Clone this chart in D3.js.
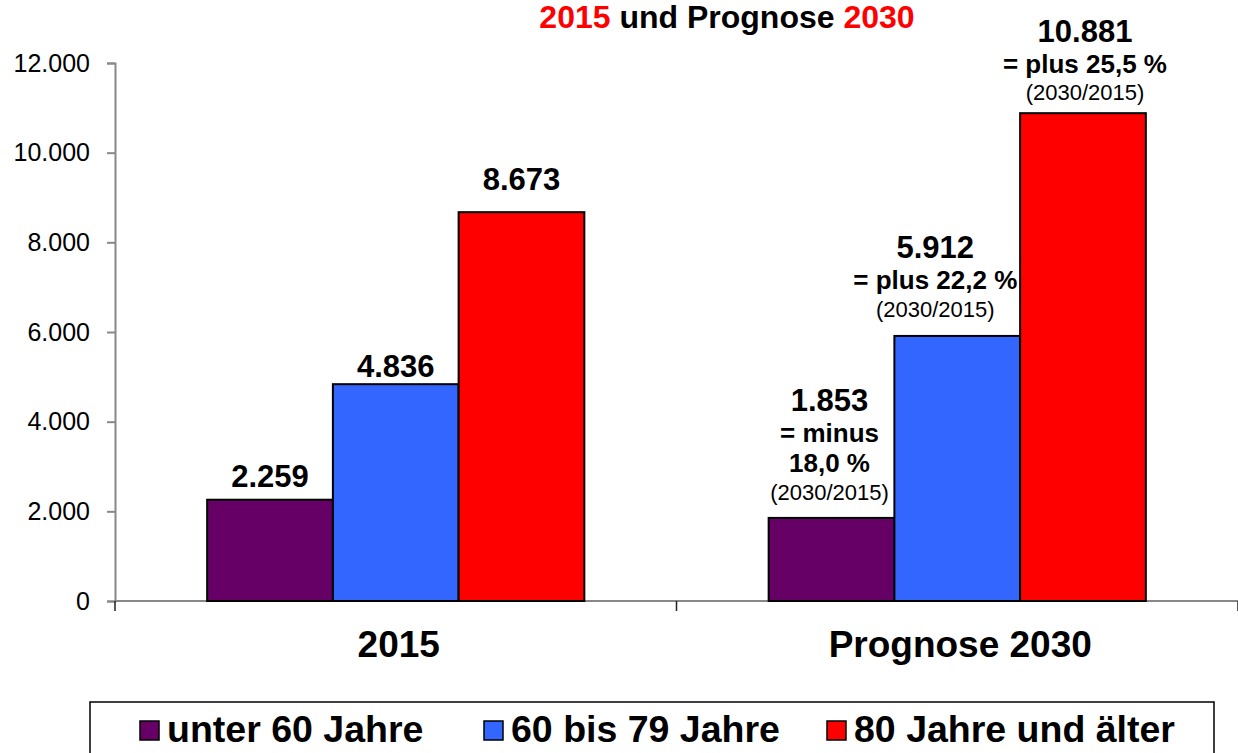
<!DOCTYPE html>
<html>
<head>
<meta charset="utf-8">
<script src="https://cdn.jsdelivr.net/npm/d3@7"></script>
<style>
  html, body { margin: 0; padding: 0; background: #fff; }
  svg { display: block; }
  text { font-family: "Liberation Sans", Arial, sans-serif; }
</style>
</head>
<body>
<svg id="chart" width="1238" height="753"></svg>
<script>
// ---- data ----
const categories = ["2015", "Prognose 2030"];
const seriesNames = ["unter 60 Jahre", "60 bis 79 Jahre", "80 Jahre und älter"];
const seriesColors = ["#660066", "#3366FF", "#FF0000"];
const values2015 = [2259, 4836, 8673];
const values2030 = [1853, 5912, 10881];
const yTicks = [0, 2000, 4000, 6000, 8000, 10000, 12000];
const titleParts = [["2015", "#FF0000"], [" und Prognose ", "#000000"], ["2030", "#FF0000"]];
const changeNote = "(2030/2015)";

// ---- layout (label placement, not data) ----
const labelGap2015 = [13, 7, 22];
const labelGap2030 = [18, 19, 13];
const labelShift2030 = [-2, -22, 2];

const de = d3.formatLocale({decimal: ",", thousands: ".", grouping: [3], currency: ["", " €"]});
const fmtInt = de.format(",d");
const fmtPct = de.format(".1f");

const svg = d3.select("#chart");
const W = 1238, H = 753;
const margin = {left: 115, right: 0, top: 63, bottom: 152};

const x0 = d3.scaleBand().domain(categories).range([margin.left, W - margin.right]).padding(0);
const x1 = d3.scaleBand().domain(seriesNames).range([0, x0.bandwidth()]).paddingInner(0).paddingOuter(0.733);
const y = d3.scaleLinear().domain([0, 12000]).range([601, 63]);

// ---- title ----
const title = svg.append("text")
  .attr("x", 727).attr("y", 28)
  .attr("text-anchor", "middle")
  .attr("font-size", 32).attr("font-weight", "bold");
titleParts.forEach(([t, c]) => title.append("tspan").attr("fill", c).text(t));

// ---- y axis ----
const yAxis = svg.append("g")
  .attr("transform", `translate(${margin.left},0)`)
  .call(d3.axisLeft(y).tickValues(yTicks).tickSize(8).tickPadding(17).tickFormat(d => fmtInt(d)));
yAxis.select(".domain").attr("stroke", "#888").attr("stroke-width", 2);
yAxis.selectAll(".tick line").attr("stroke", "#888").attr("stroke-width", 2);
yAxis.selectAll(".tick text")
  .attr("font-size", 25).attr("fill", "#000")
  .attr("font-family", "'Liberation Sans', Arial, sans-serif");

// ---- x axis ----
const xAxisG = svg.append("g");
xAxisG.append("line")
  .attr("x1", margin.left).attr("x2", W)
  .attr("y1", y(0)).attr("y2", y(0))
  .attr("stroke", "#888").attr("stroke-width", 2);
const bounds = categories.map(c => x0(c)).concat([x0(categories[categories.length - 1]) + x0.bandwidth()]);
xAxisG.selectAll("line.sep").data(bounds).join("line")
  .attr("class", "sep")
  .attr("x1", d => d).attr("x2", d => d)
  .attr("y1", y(0)).attr("y2", y(0) + 10)
  .attr("stroke", "#222").attr("stroke-width", 1.5);
xAxisG.selectAll("text.cat").data(categories).join("text")
  .attr("class", "cat")
  .attr("x", d => x0(d) + x0.bandwidth() / 2 + 3)
  .attr("y", 657)
  .attr("text-anchor", "middle")
  .attr("font-size", 37).attr("font-weight", "bold")
  .text(d => d);

// ---- bars ----
const groups = [values2015, values2030];
const barData = [];
groups.forEach((vals, gi) => {
  vals.forEach((v, si) => {
    barData.push({cat: categories[gi], series: seriesNames[si], si, gi, value: v});
  });
});

svg.append("g").selectAll("rect").data(barData).join("rect")
  .attr("x", d => x0(d.cat) + x1(d.series))
  .attr("y", d => y(d.value))
  .attr("width", x1.bandwidth())
  .attr("height", d => y(0) - y(d.value))
  .attr("fill", d => seriesColors[d.si])
  .attr("stroke", "#000").attr("stroke-width", 2);

// ---- labels ----
const lblG = svg.append("g");
function drawLabel(cx, bottomY, lines) {
  let total = 0;
  lines.forEach((l, i) => { if (i > 0) total += l.dy; });
  let yy = bottomY - total;
  lines.forEach((l, i) => {
    if (i > 0) yy += l.dy;
    lblG.append("text")
      .attr("x", cx).attr("y", yy)
      .attr("text-anchor", "middle")
      .attr("font-size", l.size).attr("font-weight", l.weight)
      .text(l.text);
  });
}

values2015.forEach((v, si) => {
  const cx = x0(categories[0]) + x1(seriesNames[si]) + x1.bandwidth() / 2;
  drawLabel(cx, y(v) - labelGap2015[si], [{text: fmtInt(v), size: 31, weight: "bold"}]);
});

values2030.forEach((v, si) => {
  const cx = x0(categories[1]) + x1(seriesNames[si]) + x1.bandwidth() / 2 + labelShift2030[si];
  const change = (v / values2015[si] - 1) * 100;
  const word = change >= 0 ? "plus" : "minus";
  const pct = fmtPct(Math.abs(change)) + " %";
  const lines = [{text: fmtInt(v), size: 31, weight: "bold"}];
  if (change < 0) {
    lines.push({text: "= " + word, size: 26, weight: "bold", dy: 31.5});
    lines.push({text: pct, size: 26, weight: "bold", dy: 30});
  } else {
    lines.push({text: "= " + word + " " + pct, size: 26, weight: "bold", dy: 31});
  }
  lines.push({text: changeNote, size: 22, weight: "normal", dy: 27.5});
  drawLabel(cx, y(v) - labelGap2030[si], lines);
});

// ---- legend ----
const legend = svg.append("g");
legend.append("rect")
  .attr("x", 90).attr("y", 702)
  .attr("width", 1124).attr("height", 80)
  .attr("fill", "none").attr("stroke", "#000").attr("stroke-width", 1.5);
const legendX = [140, 484, 827];
const items = legend.selectAll("g.item").data(seriesNames).join("g")
  .attr("class", "item")
  .attr("transform", (d, i) => `translate(${legendX[i]},0)`);
items.append("rect")
  .attr("x", 0).attr("y", 721).attr("width", 19).attr("height", 19)
  .attr("fill", (d, i) => seriesColors[i])
  .attr("stroke", "#000").attr("stroke-width", 1.5);
items.append("text")
  .attr("x", 27).attr("y", 742)
  .attr("font-size", 37.5).attr("font-weight", "bold")
  .text(d => d);
</script>
</body>
</html>
